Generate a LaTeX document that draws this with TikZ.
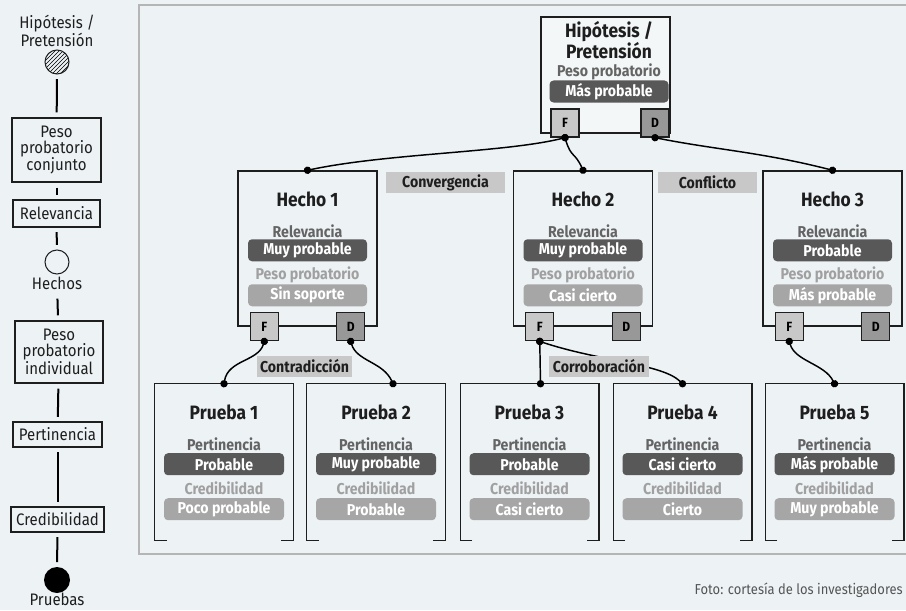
\documentclass[tikz,border=0pt]{standalone}
\usepackage{fontspec}
\setmainfont{Fira Sans}[FakeStretch=0.9]
\usetikzlibrary{shapes,arrows.meta,positioning,calc,patterns}
\definecolor{bggray}{RGB}{237,242,245}
\definecolor{framegray}{RGB}{181,181,181}
\definecolor{boxline}{RGB}{30,30,30}
\definecolor{pilldark}{RGB}{88,88,88}
\definecolor{pilllight}{RGB}{166,166,166}
\definecolor{midgray}{RGB}{100,100,100}
\definecolor{faintgray}{RGB}{160,160,160}
\definecolor{portlight}{RGB}{200,200,200}
\definecolor{portdark}{RGB}{152,152,152}
\definecolor{taggray}{RGB}{200,200,200}
\definecolor{footgray}{RGB}{85,85,85}
\newcommand{\legfont}{\fontsize{12.5}{12}\selectfont}
\newcommand{\tagfont}{\bfseries\fontsize{11.8}{12}\selectfont}

\begin{document}
\begin{tikzpicture}[x=0.75pt,y=-0.75pt,
  legbox/.style={draw=boxline, line width=0.8pt, align=center, inner sep=0pt, font=\legfont, text=boxline},
  legthick/.style={legbox, line width=1.6pt},
  legline/.style={line width=1.5pt, shorten <=3.5pt, shorten >=3.5pt},
  factbox/.style={draw=boxline, line width=1.1pt, minimum width=139*0.75pt, minimum height=155*0.75pt, inner sep=0pt},
  proofbox/.style={minimum width=138*0.75pt, minimum height=156*0.75pt, inner sep=0pt},
  boxtitle/.style={font=\bfseries\fontsize{14.5}{14.5}\selectfont, text=boxline},
  rowlabel/.style={font=\tagfont, text=midgray},
  faintlabel/.style={rowlabel, text=faintgray},
  darkpill/.style={fill=pilldark, rounded corners=3pt, text=white, font=\tagfont, minimum width=119*0.75pt, minimum height=22*0.75pt, inner sep=0pt},
  lightpill/.style={darkpill, fill=pilllight},
  fport/.style={draw=boxline, line width=1pt, fill=portlight, minimum size=28*0.75pt, inner sep=0pt, font=\bfseries\fontsize{10}{10}\selectfont},
  dport/.style={fport, fill=portdark},
  relation/.style={fill=taggray, font=\tagfont, text=boxline, minimum height=21*0.75pt, inner sep=0pt},
  link/.style={line width=1.1pt, {Circle[length=5.5pt]}-{Circle[length=5.5pt]}, shorten <=-2.75pt, shorten >=-2.75pt}]

% Canvas
\useasboundingbox[fill=bggray] (0,0) rectangle (906,610);

% Frame
\draw[framegray, line width=2.2pt] (139,5) rectangle (940,554);

% Legend column
\node[font=\legfont, align=center, text=boxline] (lhyp) at (57,31) {Hipótesis /\\Pretensión};
\node[circle, draw=boxline, line width=0.8pt, minimum size=24*0.75pt, inner sep=0pt, pattern=north east lines] (lhatch) at (57,62) {};
\node[legthick, minimum width=89*0.75pt, minimum height=64*0.75pt] (lconj) at (56.5,150) {Peso\\probatorio\\conjunto};
\node[legbox, minimum width=87*0.75pt, minimum height=27*0.75pt] (lrel) at (56.5,213.5) {Relevancia};
\node[circle, draw=boxline, line width=0.8pt, minimum size=24*0.75pt, inner sep=0pt] (lopen) at (57,262) {};
\node[font=\legfont, text=boxline] (lhech) at (57,283) {Hechos};
\node[legthick, minimum width=88*0.75pt, minimum height=62*0.75pt] (lind) at (59,352) {Peso\\probatorio\\individual};
\node[legbox, minimum width=89*0.75pt, minimum height=25*0.75pt] (lpert) at (57.5,434.5) {Pertinencia};
\node[legbox, minimum width=93*0.75pt, minimum height=25*0.75pt] (lcred) at (57.5,519.5) {Credibilidad};
\node[circle, fill=black, minimum size=26*0.75pt, inner sep=0pt] (lsolid) at (57,580) {};
\node[font=\legfont, text=boxline, inner sep=1pt] (lpru) at (57,599) {Pruebas};

\draw[legline] (lhatch) -- (lconj);
\draw[legline] (lconj) -- (lrel);
\draw[legline] (lrel) -- (lopen);
\draw[legline] (lhech) -- (lind);
\draw[legline] (lind) -- (lpert);
\draw[legline] (lpert) -- (lcred);
\draw[legline] (lcred) -- (lsolid);

% Claim
\node[factbox, fill=white!35!bggray, minimum width=129*0.75pt, minimum height=116*0.75pt] (h0) at (605.5,75) {};
\node[font=\bfseries\fontsize{14.5}{13.2}\selectfont, align=center, text=boxline] (h0t) at (609,40) {Hipótesis /\\Pretensión};
\node[rowlabel] (h0l) at (609,72) {Peso probatorio};
\node[darkpill] (h0p) at (609,91.5) {Más probable};
\node[fport] (hf0) at (565,123) {F};
\node[dport] (hd0) at (655,123) {D};

% Facts
\foreach \n/\x/\rel/\peso in {1/307.5/Muy probable/Sin soporte, 2/583/Muy probable/Casi cierto, 3/832.5/Probable/Más probable} {
  \node[factbox] (h\n) at (\x,248.5) {};
  \node[boxtitle] at ($(h\n.north)+(0,29)$) {Hecho \n};
  \node[rowlabel] at ($(h\n.north)+(0,61)$) {Relevancia};
  \node[darkpill] at ($(h\n.north)+(0,80)$) {\rel};
  \node[faintlabel] at ($(h\n.north)+(0,105)$) {Peso probatorio};
  \node[lightpill] at ($(h\n.north)+(0,125)$) {\peso};
  \node[fport] (hf\n) at ($(h\n.south west)+(27,0)$) {F};
  \node[dport] (hd\n) at ($(h\n.south east)+(-27,0)$) {D};
}

% Evidence
\foreach \n/\x/\pert/\cred in {1/224/Probable/Poco probable, 2/376/Muy probable/Probable, 3/529.5/Probable/Casi cierto, 4/682.5/Casi cierto/Cierto, 5/834.5/Más probable/Muy probable} {
  \node[proofbox] (p\n) at (\x,462) {};
  \draw[boxline, line width=1.1pt] ($(p\n.south west)+(12,0)$) -- (p\n.south west) -- (p\n.north west) -- (p\n.north east) -- (p\n.south east) -- ++(-12,0);
  \node[boxtitle] at ($(p\n.north)+(0,29)$) {Prueba \n};
  \node[rowlabel] at ($(p\n.north)+(0,61)$) {Pertinencia};
  \node[darkpill, minimum width=120*0.75pt] at ($(p\n.north)+(0,80.5)$) {\pert};
  \node[faintlabel] at ($(p\n.north)+(0,105)$) {Credibilidad};
  \node[lightpill, minimum width=120*0.75pt] at ($(p\n.north)+(0,125.5)$) {\cred};
}
\coordinate (p2in) at ($(p2.north)+(17,0)$);
\coordinate (p3in) at ($(p3.north)+(11,0)$);

% Links
\draw[link] (hf0.south) .. controls +(-60,15) and +(80,-17) .. (h1.north);
\draw[link] (hf0.south) .. controls +(6,20) and +(-8,-18) .. (h2.north);
\draw[link] (hd0.south) .. controls +(60,12) and +(-70,-18) .. (h3.north);
\draw[link] (hf1.south) .. controls +(-6,20) and +(4,-24) .. (p1.north);
\draw[link] (hd1.south) .. controls +(6,20) and +(-10,-22) .. (p2in);
\draw[link] (hf2.south) -- (p3in);
\draw[link] (hf2.south) .. controls +(60,20) and +(-20,-20) .. (p4.north);
\draw[link] (hf3.south) .. controls +(6,20) and +(-10,-20) .. (p5.north);

% Relations
\node[relation, minimum width=119*0.75pt] (conv) at (445.5,182.5) {Convergencia};
\node[relation, minimum width=99*0.75pt] (conf) at (707.5,182.5) {Conflicto};
\node[relation, minimum width=95*0.75pt] (contr) at (304.5,366.5) {Contradicción};
\node[relation, minimum width=100*0.75pt] (corr) at (599,366.5) {Corroboración};

% Credit
\node[anchor=east, font=\fontsize{10.8}{12}\selectfont, text=footgray, inner sep=0pt] (credit) at (903,590) {Foto: cortesía de los investigadores};

\end{tikzpicture}
\end{document}
